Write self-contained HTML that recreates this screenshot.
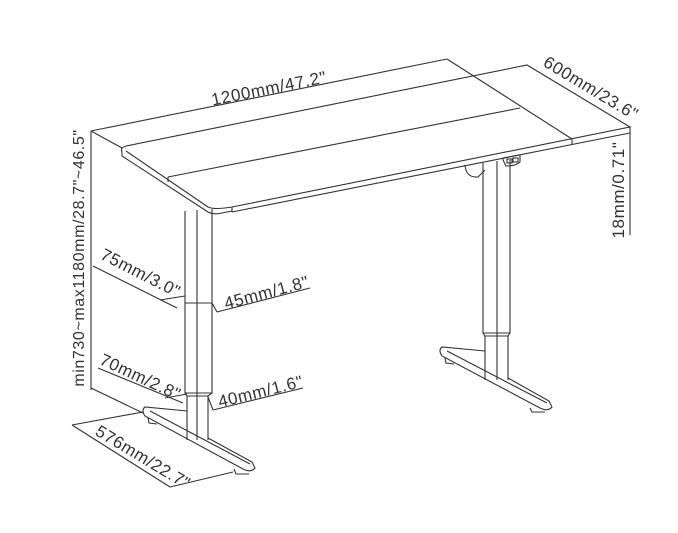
<!DOCTYPE html>
<html><head><meta charset="utf-8"><style>
html,body{margin:0;padding:0;background:#fff;width:678px;height:533px;overflow:hidden}
svg{display:block}
text{font-family:"Liberation Sans",sans-serif;fill:#333;font-size:17px;letter-spacing:0.6px}
</style></head><body>
<svg width="678" height="533" viewBox="0 0 678 533" fill="none" stroke="#333" stroke-width="1.1">
<!-- desktop -->
<line x1="91" y1="131" x2="447" y2="59"/>
<line x1="447" y1="59" x2="572" y2="139"/>
<line x1="572" y1="139" x2="572" y2="145"/>
<line x1="91" y1="131" x2="122" y2="148"/>
<path d="M126 146 Q120 148 122 152 L122 156 L208 212 Q214 215 222 213 L232 211"/>
<path d="M126 146 L527 65 L630 127 L232 207 Q214 210 208 207 L126 151"/>
<line x1="168" y1="177" x2="520" y2="108"/>
<line x1="168" y1="177" x2="168" y2="182"/>
<line x1="232" y1="207" x2="232" y2="212"/>
<line x1="232" y1="212" x2="630" y2="133"/>
<line x1="630" y1="127" x2="630" y2="235"/>
<!-- controller -->
<path d="M503 158 L520 155 L520 162 Q516 166 506 166 L503 160Z"/>
<rect x="507" y="159" width="5" height="4"/><rect x="513" y="158" width="5" height="4"/>
<path d="M465 165 Q466 178 478 177 L485 170"/>
<!-- right leg -->
<path d="M483 163 L483 333 L485 336 L485 380"/>
<path d="M510 160 L510 333 L508 336 L508 380"/>
<line x1="497" y1="161" x2="497" y2="380"/>
<line x1="483" y1="333" x2="510" y2="333"/><line x1="485" y1="336" x2="508" y2="336"/>
<path d="M485 351 L442 347 Q438 350 442 356 L540 408 Q548 412 552 407 L549 401 L508 378"/>
<line x1="447" y1="351" x2="547" y2="403"/>
<path d="M445 358 L446 363 L454 364"/><path d="M530 408 L532 412 L545 412"/>
<!-- left leg -->
<path d="M185 211 L185 393 L187 396 L187 440"/>
<path d="M212 209 L212 393 L208 396 L208 440"/>
<line x1="197" y1="210" x2="197" y2="440"/>
<line x1="185" y1="303" x2="212" y2="303"/>
<line x1="185" y1="393" x2="212" y2="393"/><line x1="187" y1="396" x2="208" y2="396"/>
<path d="M187 411 L145 407 Q141 410 145 416 L243 469 Q251 473 255 468 L252 462 L208 438"/>
<line x1="150" y1="411" x2="250" y2="464"/>
<path d="M148 418 L149 423 L157 424"/><path d="M234 469 L236 474 L249 474"/>
<!-- height dim -->
<line x1="91" y1="131" x2="91" y2="390"/>
<line x1="91" y1="388" x2="143" y2="413"/>
<!-- 75/45 -->
<line x1="93" y1="266" x2="177" y2="308"/>
<line x1="160" y1="300" x2="185" y2="296"/>
<line x1="212" y1="303" x2="217" y2="312"/>
<line x1="217" y1="312" x2="310" y2="288"/>
<!-- 70/40 -->
<line x1="98" y1="368" x2="183" y2="403"/>
<line x1="165" y1="398" x2="187" y2="394"/>
<line x1="208" y1="397" x2="213" y2="410"/>
<line x1="213" y1="410" x2="303" y2="388"/>
<!-- 576 -->
<line x1="72" y1="425" x2="143" y2="412"/>
<line x1="72" y1="425" x2="170" y2="487"/>
<line x1="170" y1="487" x2="233" y2="472"/>
<!-- labels -->
<g stroke="none">
<text transform="translate(270,94) rotate(-11.5)" text-anchor="middle">1200mm/47.2"</text>
<text transform="translate(588,93) rotate(31)" text-anchor="middle">600mm/23.6"</text>
<text transform="translate(624,190) rotate(-90)" text-anchor="middle">18mm/0.71"</text>
<text transform="translate(84,258) rotate(-90)" text-anchor="middle" style="font-size:16px">min730~max1180mm/28.7"~46.5"</text>
<text transform="translate(138,278) rotate(27)" text-anchor="middle">75mm/3.0"</text>
<text transform="translate(268,298) rotate(-15)" text-anchor="middle">45mm/1.8"</text>
<text transform="translate(138,382) rotate(25)" text-anchor="middle">70mm/2.8"</text>
<text transform="translate(262,397) rotate(-14)" text-anchor="middle">40mm/1.6"</text>
<text transform="translate(140,462) rotate(31)" text-anchor="middle">576mm/22.7"</text>
</g>
</svg>
</body></html>
